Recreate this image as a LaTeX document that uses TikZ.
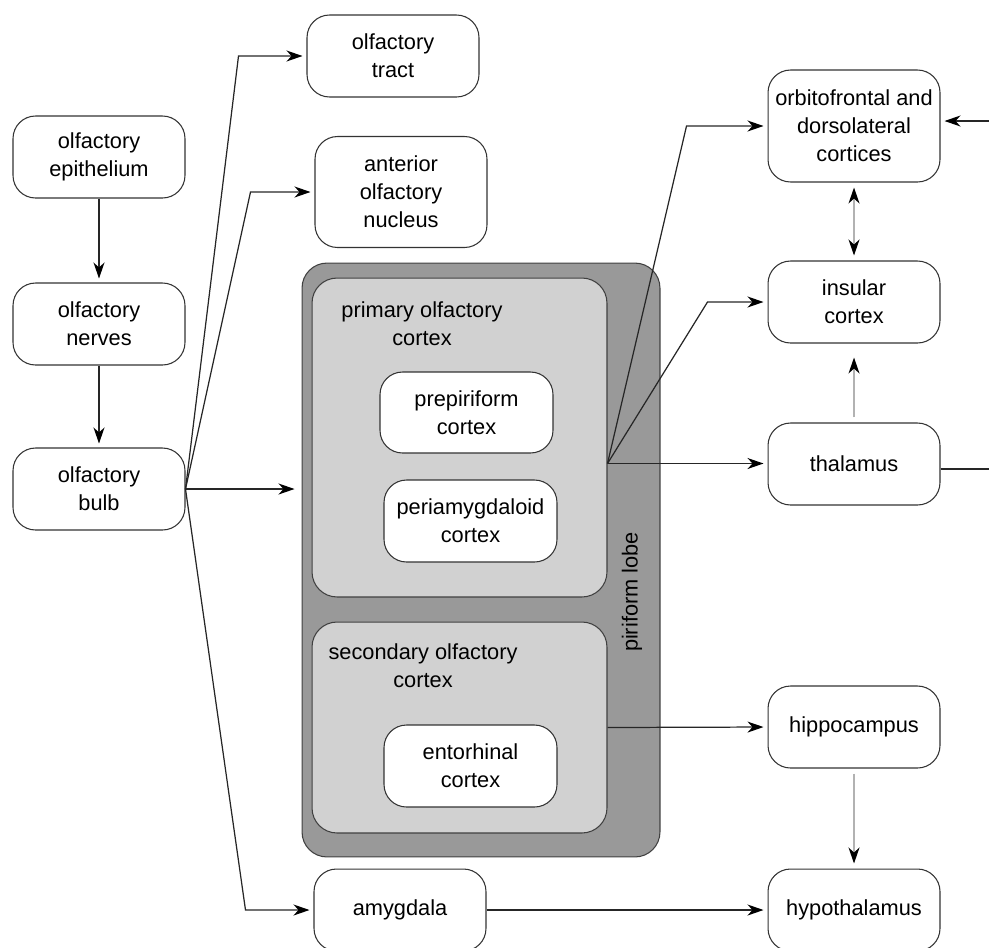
\documentclass[tikz,border=0pt]{standalone}
\usepackage{fontspec}
\setmainfont{Liberation Sans}
\usetikzlibrary{arrows.meta}
\def\lobegray{black!40}
\def\cortexgray{black!18}

\begin{document}
\begin{tikzpicture}[x=0.02cm,y=-0.02cm,
    >={Stealth[length=0.32cm,width=0.22cm,inset=0.1cm,color=black]},
    txt/.style={font=\fontsize{12.4}{15.9}\selectfont,align=center},
    box/.style={txt,draw=black!80,line width=0.6pt,fill=white,rounded corners=0.45cm,
        minimum width=3.44cm,minimum height=1.64cm,inner sep=2pt},
    area/.style={draw=black!75,line width=0.6pt,rounded corners=0.5cm,inner sep=0pt},
    link/.style={->,draw=black!85,line width=0.7pt,shorten >=0.08cm},
    glink/.style={->,draw=black!30,line width=0.7pt,shorten >=0.1cm,shorten <=0.1cm}]
    \useasboundingbox (0,0) rectangle (989,947);
    % piriform lobe and its cortices
    \node[area,fill=\lobegray,minimum width=7.16cm,minimum height=11.88cm] (piriform) at (481,560) {};
    \node[area,fill=\cortexgray,minimum width=5.9cm,minimum height=6.38cm] (primary) at (459.5,437.5) {};
    \node[area,fill=\cortexgray,minimum width=5.9cm,minimum height=4.22cm] (secondary) at (459.5,727.5) {};
    \node[txt] (primlabel) at (422,324) {primary olfactory\\cortex};
    \node[txt] (seclabel) at (423,666) {secondary olfactory\\cortex};
    \node[txt,rotate=90] (lobelabel) at (632,592) {piriform lobe};
    \node[box,minimum width=3.46cm,minimum height=1.62cm] (prepiri) at (466.5,412.5) {prepiriform\\cortex};
    \node[box,minimum width=3.46cm] (periamyg) at (470.5,521) {periamygdaloid\\cortex};
    \node[box,minimum width=3.46cm] (entorh) at (470.5,766) {entorhinal\\cortex};
    % left column
    \node[box] (epith) at (99,157) {olfactory\\epithelium};
    \node[box] (nerves) at (99,324) {olfactory\\nerves};
    \node[box] (bulb) at (99,489) {olfactory\\bulb};
    % middle column
    \node[box] (tract) at (393,56) {olfactory\\tract};
    \node[box,minimum height=2.22cm] (nucleus) at (401,192) {anterior\\olfactory\\nucleus};
    \node[box] (amygdala) at (400,910) {amygdala};
    % right column
    \node[box,minimum height=2.24cm] (orbito) at (854,126) {orbitofrontal and\\dorsolateral\\cortices};
    \node[box] (insular) at (854,302) {insular\\cortex};
    \node[box] (thalamus) at (854,464) {thalamus};
    \node[box] (hippo) at (854,727) {hippocampus};
    \node[box] (hypo) at (854,910) {hypothalamus};
    \coordinate (hub) at ([yshift=-0.52cm]primary.east);
    \coordinate (offright) at (989,121);
    % connections
    \draw[link] (epith) -- (nerves);
    \draw[link] (nerves) -- (bulb);
    \draw[link] (bulb.east) -- ([xshift=-1.36cm]tract.west) -- (tract.west);
    \draw[link] (bulb.east) -- ([xshift=-1.28cm]nucleus.west) -- (nucleus.west);
    \draw[link,shorten >=0.14cm] (bulb.east) -- (bulb.east -| piriform.west);
    \draw[link] (bulb.east) -- ([xshift=-1.36cm]amygdala.west) -- (amygdala.west);
    \draw[link] (hub) -- ([xshift=-1.62cm]orbito.west) -- (orbito.west);
    \draw[link] (hub) -- ([xshift=-1.2cm]insular.west) -- (insular.west);
    \draw[link] (hub) -- (hub -| thalamus.west);
    \draw[link] (secondary.east) -- (hippo.west);
    \draw[link] (amygdala.east) -- (hypo.west);
    \draw[glink,<->] (insular) -- (orbito);
    \draw[glink,shorten >=0.28cm] (thalamus) -- (insular);
    \draw[glink] (hippo) -- (hypo);
    \draw[link] (offright) -- (offright -| orbito.east);
    \draw[draw=black!85,line width=0.7pt] ([yshift=-0.1cm]thalamus.east) -- ([yshift=-0.1cm]thalamus.east -| offright);
\end{tikzpicture}
\end{document}
